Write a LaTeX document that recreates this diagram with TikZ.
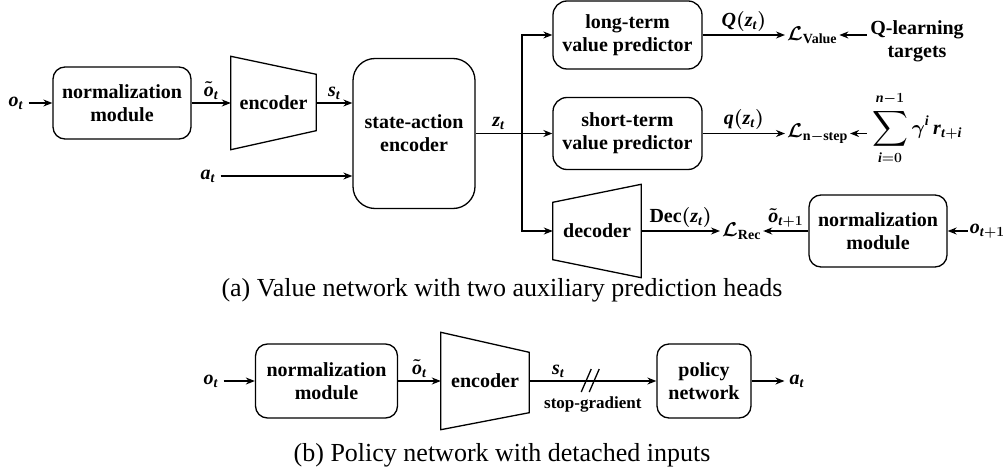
\RequirePackage{fix-cm}
\documentclass[tikz,border=0pt]{standalone}
\usepackage{exscale}
\usepackage{amsmath}
\usepackage{fontspec}
\setmainfont{Liberation Serif}
\usetikzlibrary{arrows.meta, calc}

\newcommand{\labfont}{\fontsize{20}{23}\selectfont\bfseries\boldmath}
\newcommand{\varfont}{\fontsize{20}{22}\selectfont\boldmath}
\newcommand{\smallfnt}{\fontsize{17}{19}\selectfont\bfseries}
\newcommand{\captionfnt}{\fontsize{26}{30}\selectfont}
\newcommand{\mv}[1]{\textbf{\textit{#1}}}
\newcommand{\bigsum}{\mathop{\vcenter{\hbox{\fontsize{31}{31}\selectfont$\displaystyle\sum$}}}\limits}

\tikzstyle{block} = [rectangle, draw, line width=1.3pt, rounded corners=12pt, align=center, font=\labfont]
\tikzstyle{coder} = [rectangle, align=center, font=\labfont]
\tikzstyle{var} = [font=\varfont, inner sep=5pt]
\tikzstyle{loss} = [font=\varfont, inner sep=2pt]
\tikzstyle{lbl} = [font=\varfont, inner sep=3pt]
\tikzstyle{line} = [line width=1.3pt]
\tikzstyle{arrow} = [line width=1.3pt, -{Stealth[length=9pt, width=7pt]}]

\begin{document}
\begin{tikzpicture}[x=1pt, y=-1pt]
\useasboundingbox (0,0) rectangle (1008,473);

% (a) value network
\node [var] at (16,103) (obs) {$\mv{o}_{\mv{t}}$};
\node [block, minimum width=138pt, minimum height=72pt] at (122,103) (norm1) {normalization\\module};
\node [coder, minimum width=85pt, minimum height=93pt] at (273.5,103) (enc1) {encoder};
\node [block, rounded corners=22pt, minimum width=122pt, minimum height=150pt] at (414,133.5) (sae) {state-action\\encoder};
\node [var] at (208,176) (act) {$\mv{a}_{\mv{t}}$};
\coordinate (split) at (522,133.5);
\node [block, rounded corners=14pt, minimum width=149pt, minimum height=68pt] at (627.5,35) (long) {long-term\\value predictor};
\node [block, rounded corners=14pt, minimum width=149pt, minimum height=72pt] at (627.5,133.5) (short) {short-term\\value predictor};
\node [coder, minimum width=88pt, minimum height=93pt] at (597,231) (dec) {decoder};

\node [loss, anchor=west] at (785,35) (lval) {$\mathcal{L}_{\textbf{Value}}$};
\node [coder] at (917,41) (qlt) {Q-learning\\targets};
\node [loss, anchor=west] at (785,133.5) (lns) {$\mathcal{L}_{\textbf{n}-\textbf{step}}$};
\node [var] at (917,128) (ret) {$\displaystyle\bigsum_{\mv{i}=0}^{\mv{n}-1\rule[-4pt]{0pt}{4pt}}\boldsymbol{\gamma}^{\mv{i}}\,\mv{r}_{\mv{t}+\mv{i}}$};
\node [loss, anchor=west] at (720,231) (lrec) {$\mathcal{L}_{\textbf{Rec}}$};
\node [block, minimum width=138pt, minimum height=72pt] at (878,231) (norm2) {normalization\\module};
\node [var, anchor=east, inner sep=2pt] at (1007,231) (obs1) {$\mv{o}_{\mv{t}+1}$};

% trapezoids
\draw [line] (enc1.north west) -- ($(enc1.north east)+(0,18)$) -- ($(enc1.south east)+(0,-19)$) -- (enc1.south west) -- cycle;
\draw [line] ($(dec.north west)+(0,18)$) -- (dec.north east) -- (dec.south east) -- ($(dec.south west)+(0,-18)$) -- cycle;

\draw [arrow] (obs) -- (norm1);
\draw [arrow] (norm1) -- node [lbl, above] {$\tilde{\mv{o}}_{\mv{t}}$} (enc1);
\draw [arrow] (enc1) -- node [lbl, above] {$\mv{s}_{\mv{t}}$} (enc1 -| sae.west);
\draw [arrow] (act) -- (act -| sae.west);
\draw [arrow] (sae) -- node [lbl, above, pos=0.3] {$\mv{z}_{\mv{t}}$} (short);
\draw [arrow] (split) |- (long);
\draw [arrow] (split) |- (dec);
\draw [arrow] (long) -- node [lbl, above] {$\mv{Q}(\mv{z}_{\mv{t}})$} (lval);
\draw [arrow] (qlt.west |- lval) -- (lval);
\draw [arrow] (short) -- node [lbl, above] {$\mv{q}(\mv{z}_{\mv{t}})$} (lns);
\draw [arrow] (ret.west |- lns) -- (lns);
\draw [arrow] (dec) -- node [lbl, above] {$\textbf{Dec}(\mv{z}_{\mv{t}})$} (lrec);
\draw [arrow] (norm2) -- node [lbl, above] {$\tilde{\mv{o}}_{\mv{t}+1}$} (lrec);
\draw [arrow] (obs1) -- (norm2);

\node [font=\captionfnt] at (502,290) (capa) {(a) Value network with two auxiliary prediction heads};

% (b) policy network
\node [var] at (211,381) (obs2) {$\mv{o}_{\mv{t}}$};
\node [block, minimum width=142pt, minimum height=74pt] at (326.5,381) (norm3) {normalization\\module};
\node [coder, minimum width=88pt, minimum height=97pt] at (485,381) (enc2) {encoder};
\node [block, minimum width=94pt, minimum height=74pt] at (704,381) (policy) {policy\\network};
\node [var] at (797,381) (act2) {$\mv{a}_{\mv{t}}$};

\draw [line] (enc2.north west) -- ($(enc2.north east)+(0,20)$) -- ($(enc2.south east)+(0,-17)$) -- (enc2.south west) -- cycle;

\draw [arrow] (obs2) -- (norm3);
\draw [arrow] (norm3) -- node [lbl, above] {$\tilde{\mv{o}}_{\mv{t}}$} (enc2);
\draw [arrow] (enc2) -- node [lbl, above, pos=0.23] {$\mv{s}_{\mv{t}}$} node [below=12pt, font=\smallfnt, inner sep=3pt] {stop-gradient} coordinate [pos=0.48] (cut) (policy);
\draw [line] ($(cut)+(-9,11)$) -- ($(cut)+(1,-12)$);
\draw [line] ($(cut)+(-1,11)$) -- ($(cut)+(9,-12)$);
\draw [arrow] (policy) -- (act2);

\node [font=\captionfnt] at (502,455) (capb) {(b) Policy network with detached inputs};
\end{tikzpicture}
\end{document}
